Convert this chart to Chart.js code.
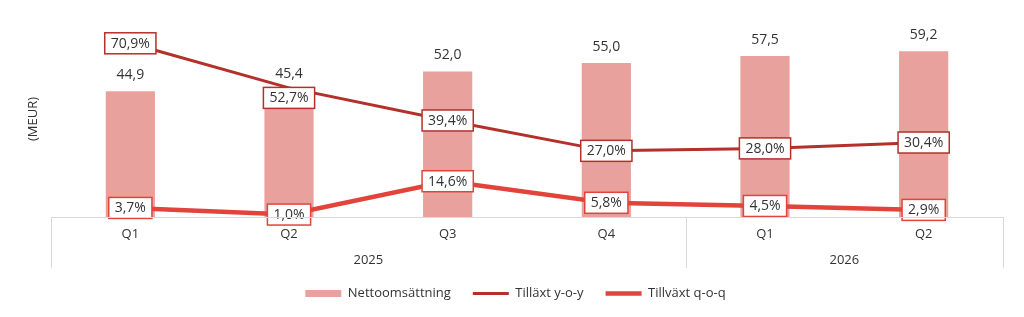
<!DOCTYPE html>
<html>
<head>
<meta charset="utf-8">
<script src="https://cdn.jsdelivr.net/npm/chart.js@4.4.0/dist/chart.umd.min.js"></script>
<style>
    html, body { margin: 0; padding: 0; background: #fff; }
    #wrap { width: 1024px; height: 317px; position: relative; }
</style>
</head>
<body>
<div id="wrap"><canvas id="salesChart"></canvas></div>
<script>
// Data
const quarters = ['Q1', 'Q2', 'Q3', 'Q4', 'Q1', 'Q2'];
const years = ['2025', '2026'];
const quartersPerYear = [4, 2];
const netSales = [44.9, 45.4, 52.0, 55.0, 57.5, 59.2];
const growthYoY = [70.9, 52.7, 39.4, 27.0, 28.0, 30.4];
const growthQoQ = [3.7, 1.0, 14.6, 5.8, 4.5, 2.9];

const colors = {
    bar: '#e8a19c',
    yoy: '#b3302b',
    qoq: '#e2433b',
    text: '#333333',
    grid: '#d9d9d9'
};
const FONT = '"Open Sans", sans-serif';

const fmt = v => v.toFixed(1).replace('.', ',');

// Value labels: plain text above bars, boxed labels on lines
const labelPlugin = {
    id: 'valueLabels',
    afterDatasetsDraw(chart) {
        const ctx = chart.ctx;
        ctx.save();
        ctx.font = '14px ' + FONT;
        ctx.textAlign = 'center';
        ctx.textBaseline = 'middle';

        chart.getDatasetMeta(0).data.forEach((bar, i) => {
            ctx.fillStyle = colors.text;
            ctx.fillText(fmt(netSales[i]), bar.x, bar.y - 16);
        });

        [[1, growthYoY, colors.yoy], [2, growthQoQ, colors.qoq]].forEach(([idx, values, col]) => {
            chart.getDatasetMeta(idx).data.forEach((pt, i) => {
                const text = fmt(values[i]) + '%';
                const w = ctx.measureText(text).width + 12;
                const h = 21;
                // the 52,7% label sits a little under its point
                const dy = (idx === 1 && i === 1) ? 10 : 0;
                const x = pt.x, y = pt.y + dy;
                ctx.fillStyle = '#fff';
                ctx.fillRect(x - w / 2, y - h / 2, w, h);
                ctx.strokeStyle = col;
                ctx.lineWidth = 1.5;
                ctx.strokeRect(x - w / 2, y - h / 2, w, h);
                ctx.fillStyle = colors.text;
                ctx.fillText(text, x, y + 0.5);
            });
        });
        ctx.restore();
    }
};

// Two-level category axis: baseline, year separators and year labels
const groupAxisPlugin = {
    id: 'groupAxis',
    afterDraw(chart) {
        const ctx = chart.ctx;
        const area = chart.chartArea;
        const xs = chart.scales.x;
        const bottom = area.bottom + 51;
        ctx.save();
        ctx.strokeStyle = colors.grid;
        ctx.lineWidth = 1;
        ctx.beginPath();
        ctx.moveTo(area.left, area.bottom + 0.5);
        ctx.lineTo(area.right, area.bottom + 0.5);

        const edges = [area.left];
        let start = 0;
        quartersPerYear.forEach(n => {
            const end = start + n - 1;
            const right = end === quarters.length - 1 ? area.right
                : (xs.getPixelForValue(end) + xs.getPixelForValue(end + 1)) / 2;
            edges.push(right);
            start += n;
        });
        edges.forEach(x => {
            const px = Math.round(x) + 0.5;
            ctx.moveTo(px, area.bottom);
            ctx.lineTo(px, bottom);
        });
        ctx.stroke();

        ctx.font = '13px ' + FONT;
        ctx.fillStyle = colors.text;
        ctx.textAlign = 'center';
        ctx.textBaseline = 'middle';
        years.forEach((yr, i) => {
            ctx.fillText(yr, (edges[i] + edges[i + 1]) / 2, area.bottom + 43);
        });
        ctx.restore();
    }
};

const ctx = document.getElementById('salesChart');
new Chart(ctx.getContext('2d'), {
    type: 'bar',
    data: {
        labels: quarters,
        datasets: [
            {
                label: 'Nettoomsättning',
                data: netSales,
                backgroundColor: colors.bar,
                borderWidth: 0,
                barPercentage: 0.31,
                categoryPercentage: 1,
                yAxisID: 'y',
                order: 3
            },
            {
                type: 'line',
                label: 'Tilläxt y-o-y',
                data: growthYoY,
                borderColor: colors.yoy,
                backgroundColor: colors.yoy,
                borderWidth: 3,
                pointRadius: 0,
                tension: 0,
                yAxisID: 'y1',
                order: 2
            },
            {
                type: 'line',
                label: 'Tillväxt q-o-q',
                data: growthQoQ,
                borderColor: colors.qoq,
                backgroundColor: colors.qoq,
                borderWidth: 4.5,
                pointRadius: 0,
                tension: 0,
                yAxisID: 'y1',
                order: 1
            }
        ]
    },
    options: {
        responsive: true,
        maintainAspectRatio: false,
        animation: false,
        layout: {
            padding: { top: 21, right: 21, bottom: 7, left: 28 }
        },
        plugins: {
            tooltip: { enabled: false },
            legend: {
                position: 'bottom',
                labels: {
                    usePointStyle: true,
                    pointStyleWidth: 36,
                    boxHeight: 7,
                    padding: 22,
                    color: colors.text,
                    font: { family: FONT, size: 13 },
                    sort: (a, b) => a.datasetIndex - b.datasetIndex,
                    generateLabels(chart) {
                        const items = Chart.defaults.plugins.legend.labels.generateLabels(chart);
                        items.forEach(it => {
                            it.pointStyle = it.datasetIndex === 0 ? 'rect' : 'line';
                        });
                        return items;
                    }
                }
            }
        },
        scales: {
            x: {
                grid: { display: false, drawTicks: false },
                border: { display: false },
                ticks: {
                    color: colors.text,
                    padding: 9,
                    font: { family: FONT, size: 13 }
                },
                afterFit: axis => { axis.height = 48; }
            },
            y: {
                min: 0,
                max: 70,
                grid: { display: false },
                border: { display: false },
                ticks: { display: false },
                title: {
                    display: true,
                    text: '(MEUR)',
                    color: colors.text,
                    padding: { top: -3, bottom: 0 },
                    font: { family: FONT, size: 13 }
                },
                afterFit: axis => { axis.width = 23; }
            },
            y1: {
                position: 'right',
                min: 0,
                max: 80,
                display: false
            }
        }
    },
    plugins: [labelPlugin, groupAxisPlugin]
});
</script>
</body>
</html>
